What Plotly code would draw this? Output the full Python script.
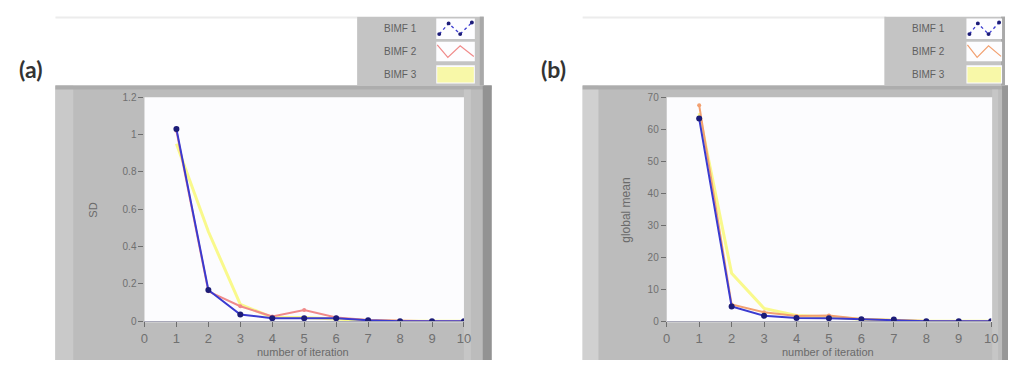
import plotly.graph_objects as go

# ---------------- data ----------------
iterations = [1, 2, 3, 4, 5, 6, 7, 8, 9, 10]
series_names = ["BIMF 1", "BIMF 2", "BIMF 3"]

sd_bimf1 = [1.03, 0.167, 0.036, 0.016, 0.016, 0.016, 0.005, 0.0, 0.0, 0.0]
sd_bimf2 = [1.02, 0.16, 0.08, 0.025, 0.06, 0.02, 0.006, 0.001, 0.0, 0.0]
sd_bimf3 = [0.95, 0.48, 0.09, 0.02, 0.02, 0.01, 0.003, 0.0, 0.0, 0.0]

gm_bimf1 = [63.3, 4.6, 1.7, 1.0, 0.9, 0.6, 0.5, 0.0, 0.0, 0.0]
gm_bimf2 = [67.5, 5.2, 2.8, 1.6, 1.8, 0.7, 0.4, 0.05, 0.0, 0.0]
gm_bimf3 = [65.0, 15.0, 4.0, 1.8, 1.3, 0.6, 0.3, 0.0, 0.0, 0.0]

sd_ticks = [0, 0.2, 0.4, 0.6, 0.8, 1, 1.2]
gm_ticks = [0, 10, 20, 30, 40, 50, 60, 70]
x_ticks = [0, 1, 2, 3, 4, 5, 6, 7, 8, 9, 10]

# ---------------- helpers ----------------
W, H = 1014, 365


def px(x):
    return x / W


def py(y):
    return 1 - y / H


def rect(x0, y0, x1, y1, color, line=None):
    return dict(type="rect", xref="paper", yref="paper",
                x0=px(x0), x1=px(x1), y0=py(y1), y1=py(y0),
                fillcolor=color, line=dict(width=0) if line is None else line,
                layer="below")


def path(points, color, width=1.2, dash="solid"):
    d = "M " + " L ".join(f"{px(a):.5f},{py(b):.5f}" for a, b in points)
    return dict(type="path", xref="paper", yref="paper", path=d,
                line=dict(color=color, width=width, dash=dash), layer="above")


def label(text, x, y, size, color="#6a6a6a", family="Liberation Sans", angle=0, yanchor="middle"):
    return dict(text=text, x=px(x), y=py(y), xref="paper", yref="paper",
                xanchor="center", yanchor=yanchor, textangle=angle, showarrow=False,
                borderpad=0, font=dict(family=family, size=size, color=color))


blue_line = "#3a3ad0"
blue_mark = "#1c1c78"
red_a = "#f08a8a"
red_b = "#f2a070"
yellow = "#f9f98c"

fig = go.Figure()

panels = [
    dict(xa="x", ya="y", data=[sd_bimf3, sd_bimf2, sd_bimf1], red=red_a),
    dict(xa="x2", ya="y2", data=[gm_bimf3, gm_bimf2, gm_bimf1], red=red_b),
]

for p in panels:
    d3, d2, d1 = p["data"]
    fig.add_trace(go.Scatter(x=iterations, y=d3, mode="lines", name=series_names[2],
                             line=dict(color=yellow, width=3),
                             xaxis=p["xa"], yaxis=p["ya"]))
    fig.add_trace(go.Scatter(x=iterations, y=d2, mode="lines+markers", name=series_names[1],
                             line=dict(color=p["red"], width=2),
                             marker=dict(color=p["red"], size=4),
                             xaxis=p["xa"], yaxis=p["ya"]))
    fig.add_trace(go.Scatter(x=iterations, y=d1, mode="lines+markers", name=series_names[0],
                             line=dict(color=blue_line, width=2),
                             marker=dict(color=blue_mark, size=6),
                             xaxis=p["xa"], yaxis=p["ya"]))

ya_dom = [py(326), py(95)]
tick_common = dict(showgrid=False, zeroline=False, ticks="outside",
                   tickcolor="#6e6e6e", tickwidth=1)
xfont = dict(family="Liberation Sans", color="#707070", size=13)
yfont = dict(family="Liberation Sans", color="#707070", size=10)

fig.update_layout(
    xaxis=dict(domain=[px(142), px(465)], range=[0, 10], tickvals=x_ticks,
               anchor="y", ticklen=5, showline=True, linecolor="#a8a8b8",
               tickfont=xfont, **tick_common),
    yaxis=dict(domain=ya_dom, range=[0, 1.2], tickvals=sd_ticks,
               anchor="x", ticklen=5, showline=False, tickfont=yfont, **tick_common),
    xaxis2=dict(domain=[px(670), px(998)], range=[0, 10], tickvals=x_ticks,
                anchor="y2", ticklen=5, showline=True, linecolor="#a8a8b8",
                tickfont=xfont, **tick_common),
    yaxis2=dict(domain=ya_dom, range=[0, 70], tickvals=gm_ticks,
                anchor="x2", ticklen=5, showline=False, tickfont=yfont, **tick_common),
)

shapes = []
# ---- panel (a) frame ----
shapes += [
    dict(type="line", xref="paper", yref="paper", x0=px(52), x1=px(357),
         y0=py(13), y1=py(13), line=dict(color="#ececec", width=2), layer="below"),
    rect(52, 83, 493, 366, "#bcbcbc"),
    rect(52, 83, 70, 366, "#c9c9c9"),
    rect(52, 83, 493, 87, "#adadad"),
    rect(465, 87, 472, 366, "#c6c6c6"),
    rect(484, 83, 493, 366, "#939393"),
    rect(142, 95, 465, 327, "#fcfcfe"),
]
# ---- panel (b) frame ----
shapes += [
    dict(type="line", xref="paper", yref="paper", x0=px(585), x1=px(892),
         y0=py(13), y1=py(13), line=dict(color="#ececec", width=2), layer="below"),
    rect(585, 83, 1015, 366, "#bcbcbc"),
    rect(585, 83, 601, 366, "#d0d0d0"),
    rect(585, 83, 1015, 87, "#adadad"),
    rect(999, 87, 1005, 366, "#c6c6c6"),
    rect(1009, 83, 1015, 366, "#979797"),
    rect(670, 95, 999, 327, "#fcfcfe"),
]

# ---- legends (LabVIEW style: label left, swatch right) ----
legends = [
    dict(x0=357, x1=485, text_x=401, sw0=437, sw1=476, red=red_a),
    dict(x0=890, x1=1012, text_x=935, sw0=973, sw1=1009, red=red_b),
]
row_boxes = [(14, 35), (38, 58), (62, 81)]
annotations = []
for lg in legends:
    shapes.append(rect(lg["x0"], 12, lg["x1"], 83, "#c4c4c4"))
    shapes.append(rect(lg["x1"] - 4, 12, lg["x1"], 83, "#a9a9a9"))
    s0, s1 = lg["sw0"], lg["sw1"]
    for (t, b) in row_boxes:
        shapes.append(rect(s0, t, s1, b, "#fdfdff"))
    t, b = row_boxes[0]
    w = s1 - s0
    zz1 = [(s0 + 3, b - 5), (s0 + w * 0.32, t + 5), (s0 + w * 0.62, b - 5), (s1 - 3, t + 4)]
    shapes.append(path(zz1, blue_line, 1.3, "dot"))
    for (xx, yy) in zz1:
        shapes.append(dict(type="circle", xref="paper", yref="paper",
                           x0=px(xx - 2), x1=px(xx + 2), y0=py(yy + 2), y1=py(yy - 2),
                           fillcolor=blue_mark, line=dict(width=0), layer="above"))
    t, b = row_boxes[1]
    zz2 = [(s0 + 1, t + 3), (s0 + w * 0.3, b - 4), (s0 + w * 0.62, t + 4), (s1 - 1, b - 5)]
    shapes.append(path(zz2, lg["red"], 1.2))
    t, b = row_boxes[2]
    shapes.append(rect(s0 + 1, t + 2, s1 - 1, b - 1, "#f8f8a8"))
    for name, (t, b) in zip(series_names, row_boxes):
        annotations.append(label(name, lg["text_x"], (t + b) / 2, 10, color="#606060"))

annotations += [
    label("<b>(a)</b>", 27, 66, 23, color="#333333", family="Lato"),
    label("<b>(b)</b>", 556, 66, 23, color="#333333", family="Lato"),
    label("SD", 90, 212, 11, angle=-90),
    label("global mean", 628, 212, 12, angle=-90),
    label("number of iteration", 302, 358, 11),
    label("number of iteration", 833, 358, 11),
]

fig.update_layout(
    width=W, height=H, margin=dict(l=0, r=0, t=0, b=0),
    paper_bgcolor="white", plot_bgcolor="rgba(0,0,0,0)",
    showlegend=False, shapes=shapes, annotations=annotations,
)

fig.write_html(
    "out.html",
    config={"displayModeBar": False},
    post_script="document.body.style.margin='0px';document.body.style.overflow='hidden';",
)
